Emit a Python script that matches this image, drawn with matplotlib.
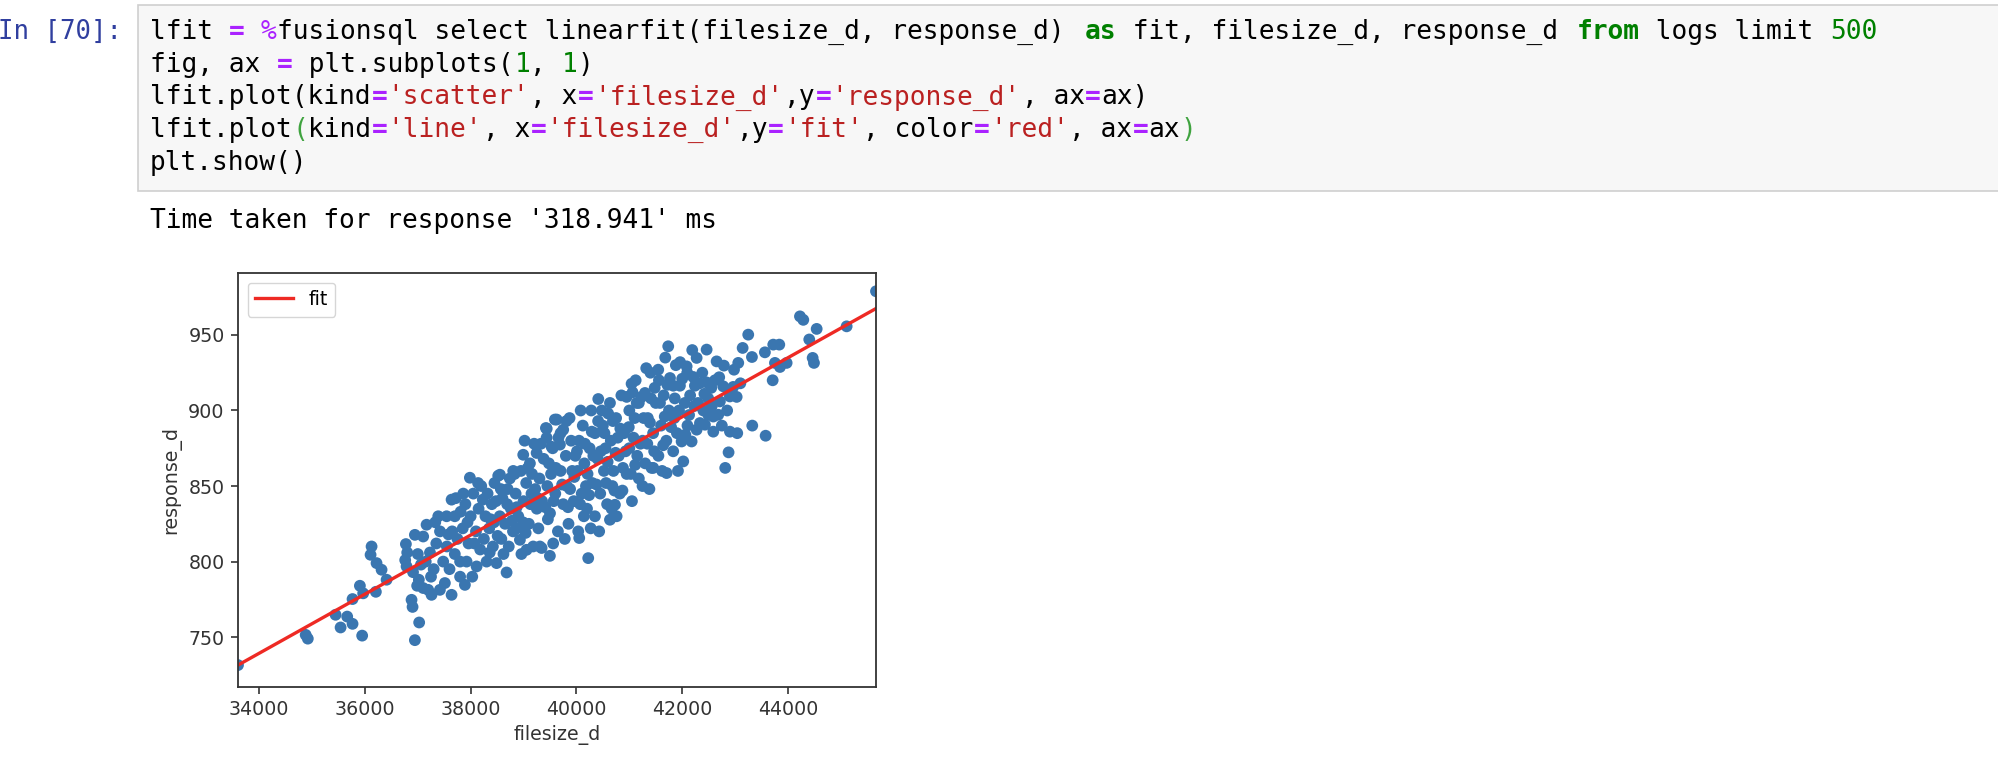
import matplotlib
matplotlib.use("Agg")
import matplotlib.pyplot as plt
from matplotlib.patches import Rectangle

W, H = 1999, 777

# logs sample (filesize_d, response_d), one line per x-slice
filesize_d = [
    33600, 34880, 34920, 35445, 35540, 35665, 35766, 35948, 35766, 35905,
    35967, 36207, 36410, 36126, 36107, 36220, 36315,
    36775, 36762, 36788, 36882, 36901, 36945, 37026, 36988, 37102, 36910,
    37020, 37197, 37260, 37418, 37512, 37639, 37891, 36800, 36945, 37102,
    37166, 37387, 37545, 37639, 37000, 37060, 37150, 37230, 37300, 37350,
    37420, 37480, 37550, 37600, 37250, 37330,
    37700, 37750, 37800, 37850, 37900, 37985, 37923, 37800, 37700, 37960,
    38000, 38050, 38112, 38100, 38150, 38180, 37860, 37650, 38030, 38200,
    38301, 38250, 38280, 38320, 38350, 38400, 38420, 38490, 38450, 38521,
    38553, 38550, 38580, 38600, 38650, 38679, 38700, 38720, 38760, 38805,
    38800, 38380, 38480, 38620, 38740,
    38850, 38900, 38931, 38950, 38994, 39000, 39057, 39050, 39100, 39120,
    39150, 39182, 39200, 39247, 39250, 39300, 39309, 39341, 39350, 39380,
    38880, 39020, 39160, 39280, 38960, 39220,
    39423, 39438, 39436, 39498, 39450, 39480, 39500, 39550, 39593, 39627,
    39600, 39650, 39688, 39700, 39750, 39750, 39800, 39820, 39850, 39900,
    39920, 39950, 39980, 39460, 39560, 39780, 39870, 39700, 39520, 39880,
    40034, 40053, 40020, 40050, 40100, 40120, 40150, 40200, 40223, 40250,
    40280, 40300, 40350, 40350, 40413, 40400, 40450, 40500, 40520, 40550,
    40580, 40600, 40080, 40180, 40270, 40430, 40480, 40140, 40320, 40560,
    40634, 40634, 40665, 40728, 40650, 40700, 40750, 40800, 40820, 40850,
    40900, 40950, 40950, 41000, 41043, 41062, 41050, 41100, 41150, 41180,
    40680, 40780, 40880, 41000, 41120, 40760, 41180,
    41233, 41296, 41250, 41300, 41350, 41400, 41421, 41453, 41450, 41500,
    41547, 41560, 41550, 41600, 41650, 41705, 41700, 41736, 41769, 41750,
    41250, 41380, 41480, 41620, 41680, 41320,
    41830, 41830, 41850, 41900, 41957, 41989, 42020, 42084, 42095, 42050,
    42100, 42178, 42208, 42241, 42273, 42273, 42336, 42300, 42400, 42430,
    42462, 42462, 42493, 42492, 41880, 42150, 41920, 42380,
    42588, 42588, 42651, 42682, 42713, 42776, 42789, 42814, 42877, 42902,
    42903, 42965, 43030, 43041, 43060, 43143, 43249, 43319, 43325, 42550,
    42620, 42750,
    43564, 43578, 43711, 43722, 43754, 43836, 43849, 43975, 44227, 44290,
    44403, 44467, 44492, 44543, 45110, 45665,
    # denser core
    37580, 37720, 37810, 37940, 38070, 38140, 38230, 38360, 38440, 38510,
    38570, 38690, 38830, 38870, 38990, 39080, 39130, 39270, 39330, 39410,
    39040, 38780,
    39530, 39610, 39660, 39730, 39810, 39840, 39960, 40010, 40070, 40160,
    40210, 40290, 40380, 40460, 40530, 39570, 40240, 40410,
    40590, 40690, 40740, 40830, 40870, 40930, 40990, 41030, 41080, 41140,
    41210, 41270, 41340, 41410, 41470, 40720, 41110, 41390,
    41580, 41640, 41720, 41790, 41860, 41940, 42000, 42060, 42130, 42230,
    42330, 42420, 41670, 41960, 42190,
    42560, 42700, 42850, 42980, 43100,
]
response_d = [
    731.5, 751.5, 749, 764.8, 756.4, 763.6, 758.8, 751, 775.2, 784,
    779, 780, 788, 810, 804.5, 799, 794.6,
    811.6, 801, 796.8, 774.7, 770, 748, 759.7, 784, 782.5, 793,
    788, 781.3, 778, 781.3, 785.8, 778, 784.6, 806, 817.7, 816.6,
    824.4, 830, 830, 841, 805, 798, 800, 806, 795, 812,
    820, 800, 810, 795, 790, 826,
    830, 815, 800, 822, 838, 855.5, 800, 790, 805, 812,
    830, 845, 796.8, 820, 835, 808, 845, 820, 790, 850,
    800, 815, 830, 845, 822, 838, 810, 799, 852, 856.8,
    857.5, 830, 815, 842, 825, 792.8, 848, 810, 835, 860,
    820, 828, 840, 805, 855,
    845, 830, 814.4, 860, 870.7, 840, 807.8, 852, 825, 865,
    845, 810, 878, 871.9, 835, 855, 810, 809, 840, 868,
    822, 880, 858, 822, 805, 848,
    888.4, 888, 882, 803.8, 850, 865, 832, 875, 894, 894,
    845, 820, 877.4, 860, 887.3, 838, 870, 850, 825, 880,
    860, 840, 870, 828, 812, 815, 895, 885, 858, 848,
    820, 815.6, 860, 880, 845, 890, 865, 835, 802.3, 875,
    900, 852, 885, 830, 907.6, 868, 845, 890, 860, 875,
    838, 898, 900, 850, 822, 820, 900, 830, 870, 852,
    905, 827.7, 835, 837.6, 880, 860, 895, 870, 845, 910,
    885, 909, 858, 875, 917.7, 912, 840, 895, 870, 855,
    850, 882, 862, 900, 920, 830, 905,
    909, 911.6, 880, 865, 895, 925, 862, 862, 885, 905,
    927, 920, 870, 890, 910, 858.6, 880, 942.5, 921.5, 900,
    850, 848, 915, 860, 935, 928,
    916.4, 873, 895, 885, 916.4, 879.5, 866.3, 929.2, 925, 905,
    890, 879.5, 922.2, 916.4, 934.8, 887.3, 891.7, 905, 900, 890.6,
    940.3, 918.6, 897.2, 908, 930, 910, 860, 925,
    886, 896, 932.5, 897.2, 906, 916, 929.7, 862, 872.3, 909.3,
    886, 915.6, 909, 885, 931.5, 941.4, 950.2, 935.4, 890, 915,
    920, 890,
    938.5, 883.3, 920, 943.6, 931.5, 943.6, 928.8, 931.5, 962.3, 960,
    947, 934.8, 931.5, 954, 955.7, 978.9,
    # denser core
    818, 842, 833, 826, 812, 852, 841, 806, 826, 817,
    848, 838, 858, 836, 826, 862, 838, 842, 878, 836,
    819, 827,
    876, 862, 882, 851, 893, 836, 856, 873, 838, 878,
    858, 886, 851, 873, 885, 840, 844, 893,
    866, 893, 872, 888, 847, 873, 889, 858, 882, 905,
    878, 895, 878, 908, 873, 847, 864, 892,
    905, 877, 917, 889, 908, 900, 921, 884, 897, 903,
    918, 911, 896, 932, 940,
    903, 922, 900, 927, 918,
]
assert len(filesize_d) == len(response_d)

# linearfit result, ends of the fitted line
fit_x = [33600, 45665]
fit_y = [731.5, 967.5]

x_ticks = [34000, 36000, 38000, 40000, 42000, 44000]
y_ticks = [750, 800, 850, 900, 950]

# notebook cell text
K, P, G, R, M = "black", "#AA22FF", "#008000", "#BA2121", "#3fa33f"
code_lines = [
    [("lfit ", K, 0), ("=", P, 1), (" ", K, 0), ("%", P, 0),
     ("fusionsql select linearfit(filesize_d, response_d) ", K, 0), ("as", G, 1),
     (" fit, filesize_d, response_d ", K, 0), ("from", G, 1),
     (" logs limit ", K, 0), ("500", G, 0)],
    [("fig, ax ", K, 0), ("=", P, 1), (" plt.subplots(", K, 0), ("1", G, 0),
     (", ", K, 0), ("1", G, 0), (")", K, 0)],
    [("lfit.plot(kind", K, 0), ("=", P, 1), ("'scatter'", R, 0), (", x", K, 0),
     ("=", P, 1), ("'filesize_d'", R, 0), (",y", K, 0), ("=", P, 1),
     ("'response_d'", R, 0), (", ax", K, 0), ("=", P, 1), ("ax)", K, 0)],
    [("lfit.plot", K, 0), ("(", M, 0), ("kind", K, 0), ("=", P, 1), ("'line'", R, 0),
     (", x", K, 0), ("=", P, 1), ("'filesize_d'", R, 0), (",y", K, 0), ("=", P, 1),
     ("'fit'", R, 0), (", color", K, 0), ("=", P, 1), ("'red'", R, 0),
     (", ax", K, 0), ("=", P, 1), ("ax", K, 0), (")", M, 0)],
    [("plt.show()", K, 0)],
]
line_y = [32, 65, 97.5, 130, 162.5]
output_text = "Time taken for response '318.941' ms"


def fx(px):
    return px / W


def fy(py):
    return 1 - py / H


fig = plt.figure(figsize=(W / 100, H / 100), dpi=100)
fig.patch.set_facecolor("white")

mono = "DejaVu Sans Mono"
cw = 15.85   # char advance in px
x0 = 150

fig.add_artist(Rectangle((fx(138), fy(191)), fx(2010) - fx(138), (191 - 5) / H,
                         transform=fig.transFigure, facecolor="#f7f7f7",
                         edgecolor="#cfcfcf", lw=1.2))
fig.text(fx(122), fy(line_y[0]), "In [70]:", color="#303F9F", family=mono,
         fontsize=18.5, ha="right", va="center")

for toks, yy in zip(code_lines, line_y):
    col = 0
    for txt, c, bold in toks:
        if txt.strip():
            fig.text(fx(x0 + col * cw), fy(yy), txt, color=c, family=mono,
                     fontsize=18.9, fontweight="bold" if bold else "normal",
                     ha="left", va="center")
        col += len(txt)

fig.text(fx(x0), fy(221), output_text, family=mono, fontsize=18.9,
         ha="left", va="center", color="black")

# the plot
ax = fig.add_axes([fx(238), fy(687), 638 / W, 414 / H])
ax.scatter(filesize_d, response_d, s=72, color="#3a76b0", edgecolors="none")
ax.plot(fit_x, fit_y, color="#ee2a24", lw=2.4, label="fit")
ax.set_xlim(min(filesize_d), max(filesize_d))
ax.set_ylim(717, 991)
ax.set_xticks(x_ticks)
ax.set_yticks(y_ticks)
ax.set_xlabel("filesize_d", fontsize=13.7, color="#333333")
ax.set_ylabel("response_d", fontsize=13.7, color="#333333", labelpad=5)
ax.tick_params(labelsize=13.7, labelcolor="#333333", length=4.8, width=1.2,
               color="#333333", pad=4.8)
for sp in ax.spines.values():
    sp.set_color("#333333")
    sp.set_linewidth(1.3)
ax.legend(loc="upper left", fontsize=13.7, framealpha=0.8, edgecolor="0.8")

fig.savefig("out.png", dpi=100)
